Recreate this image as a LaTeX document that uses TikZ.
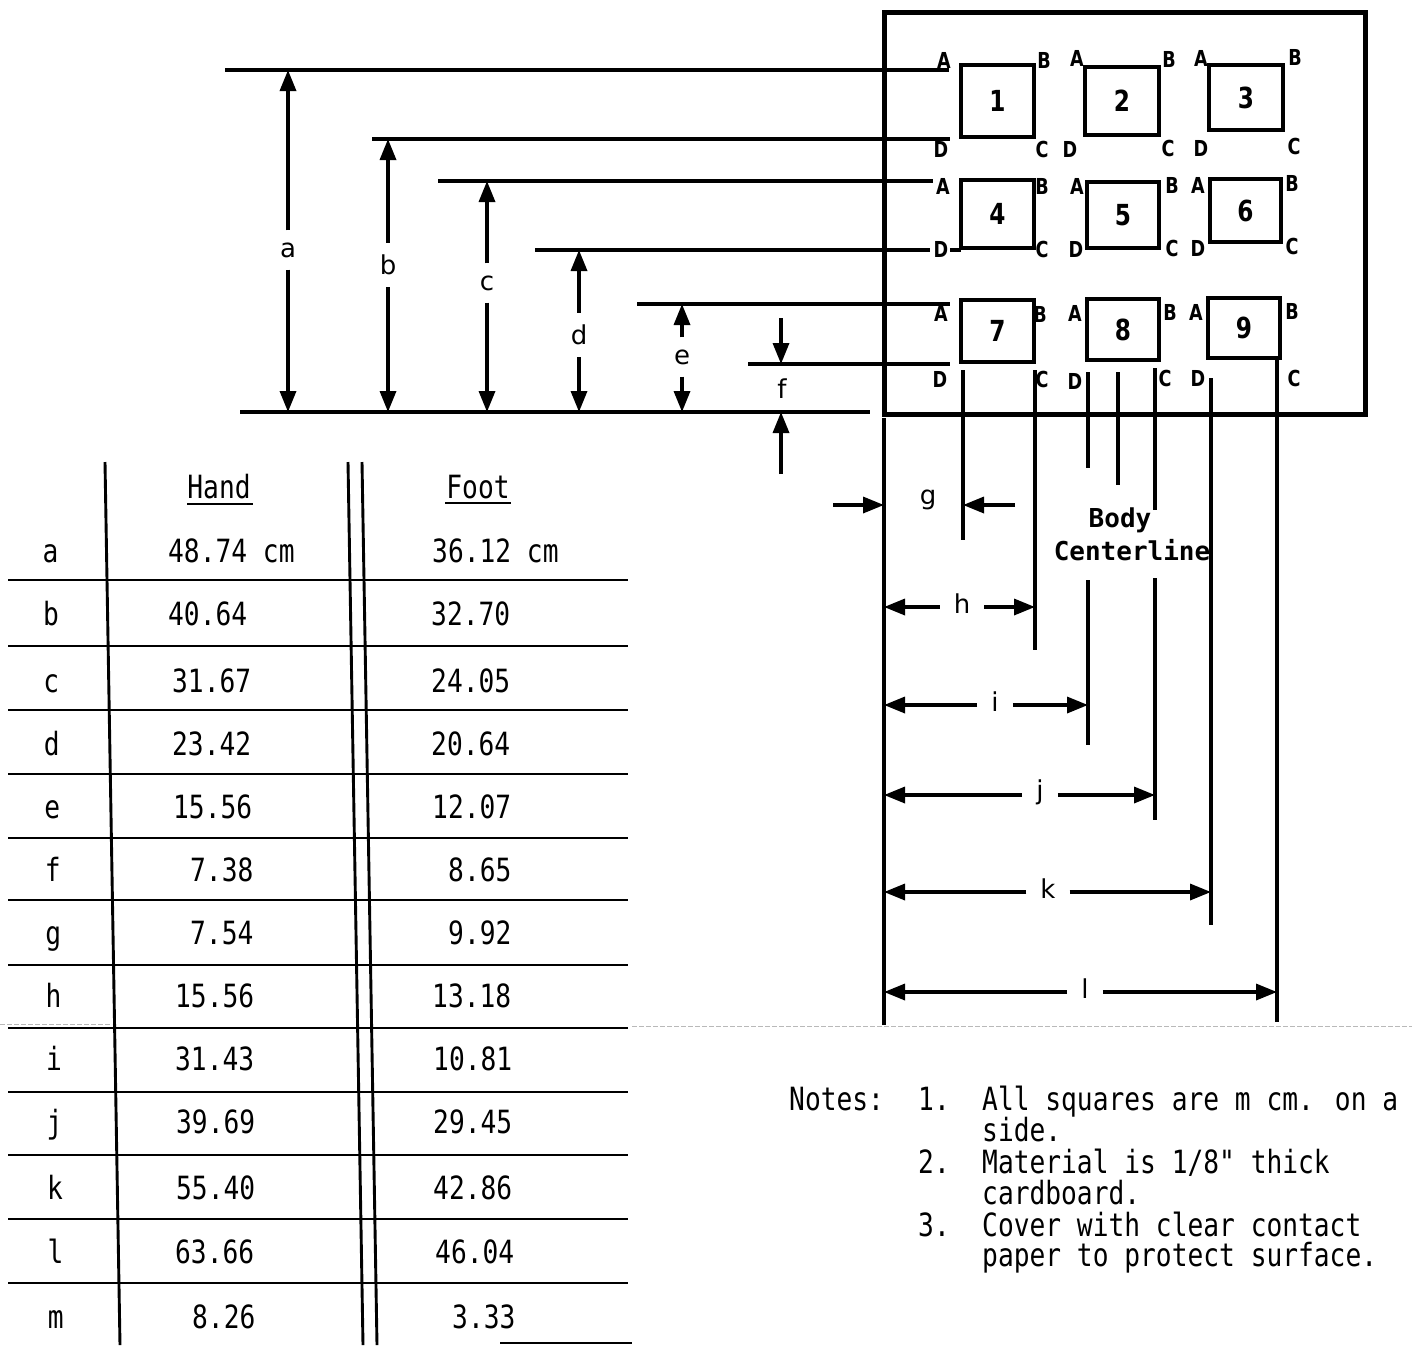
\documentclass[tikz,border=0pt]{standalone}
\usepackage{fontspec}
\usetikzlibrary{arrows.meta}
\newfontfamily\tabfont[FakeStretch=0.82]{DejaVu Sans Mono}
\newfontfamily\corfont[FakeStretch=0.8]{DejaVu Sans}
\newfontfamily\lblfont{DejaVu Sans}
\newfontfamily\bodyfont{DejaVu Sans Mono}
\tikzset{
 dimline/.style={line width=3.4pt},
 dimarrow/.style={line width=3.4pt, -{Triangle[length=21pt,width=16pt]}},
 sqbox/.style={draw, line width=4pt, inner sep=0pt, font=\corfont\bfseries\fontsize{29}{29}\selectfont},
 corner/.style={font=\corfont\bfseries\fontsize{22}{22}\selectfont, inner sep=0pt},
 dimlbl/.style={font=\lblfont\fontsize{26}{26}\selectfont, inner xsep=6pt, inner ysep=12pt},
 hlbl/.style={font=\lblfont\fontsize{26}{26}\selectfont, inner xsep=14pt, inner ysep=4pt},
 tabline/.style={line width=2.9pt},
 tabtxt/.style={font=\tabfont\fontsize{32}{32}\selectfont, inner sep=0pt, anchor=base west},
 bodytxt/.style={font=\bodyfont\bfseries\fontsize{26}{26}\selectfont, inner sep=0pt},
}
\begin{document}
\begin{tikzpicture}[x=1pt,y=-1pt]
\useasboundingbox (0,0) rectangle (1412,1345);
% faint fold line
\draw[gray!55, line width=0.8pt, dash pattern=on 5pt off 2pt] (0,1024) -- (112,1024);
\draw[gray!55, line width=0.8pt, dash pattern=on 5pt off 2pt] (632,1026) -- (1412,1026);
% board
\node[draw, line width=4.5pt, minimum width=481pt, minimum height=402pt, inner sep=0pt, anchor=north west] (board) at (882,10) {};
% squares
\node[sqbox, minimum width=73pt, minimum height=72pt] (s1) at (997.5,101) {1};
\node[sqbox, minimum width=74pt, minimum height=68pt] (s2) at (1122,101) {2};
\node[sqbox, minimum width=74pt, minimum height=65pt] (s3) at (1246,97.5) {3};
\node[sqbox, minimum width=73pt, minimum height=68pt] (s4) at (997.5,214) {4};
\node[sqbox, minimum width=72pt, minimum height=66pt] (s5) at (1123,215) {5};
\node[sqbox, minimum width=71pt, minimum height=63pt] (s6) at (1245.5,210.5) {6};
\node[sqbox, minimum width=73pt, minimum height=62pt] (s7) at (997.5,331) {7};
\node[sqbox, minimum width=72pt, minimum height=61pt] (s8) at (1123,329.5) {8};
\node[sqbox, minimum width=72pt, minimum height=60pt] (s9) at (1244,328) {9};
% corner letters
\foreach \nm/\t/\x/\y in {
 a1/A/944/60, b1/B/1044/60, a2/A/1077/58, b2/B/1169/59, a3/A/1201/58, b3/B/1295/57,
 d1/D/941/149, c1/C/1042/149, d2/D/1070/149, c2/C/1168/148, d3/D/1201/148, c3/C/1294/146,
 a4/A/943/186, b4/B/1042/186, a5/A/1077/186, b5/B/1172/185, a6/A/1198/185, b6/B/1292/183,
 d4/D/941/249, c4/C/1042/249, d5/D/1076/249, c5/C/1172/248, d6/D/1198/248, c6/C/1292/246,
 a7/A/941/313, b7/B/1040/314, a8/A/1075/313, b8/B/1170/312, a9/A/1196/312, b9/B/1292/311,
 d7/D/940/379, c7/C/1042/379, d8/D/1075/381, c8/C/1165/378, d9/D/1198/378, c9/C/1294/378}
 \node[corner] (k\nm) at (\x,\y) {\t};
% horizontal reference lines
\draw[dimline] (225,70) -- (949,70);
\draw[dimline] (372,139) -- (950,139);
\draw[dimline] (438,181) -- (933,181);
\draw[dimline] (535,250) -- (930,250);
\draw[dimline] (950,250) -- (961,250);
\draw[dimline] (637,304) -- (950,304);
\draw[dimline] (748,364) -- (950,364);
\draw[dimline] (240,412) -- (870,412);
% vertical dimensions a-e
\foreach \n/\x/\yt/\yl in {a/288/70/250, b/388/139/265, c/487/181/283, d/579/250/335, e/682/304/357}{
 \coordinate (\n top) at (\x,\yt);
 \coordinate (\n bot) at (\x,412);
 \node[dimlbl] (\n lab) at (\x,\yl) {\n};
 \draw[dimarrow] (\n lab) -- (\n top);
 \draw[dimarrow] (\n lab) -- (\n bot);
}
% f dimension
\coordinate (f1) at (781,318);
\coordinate (f1e) at (781,364);
\coordinate (f2) at (781,474);
\coordinate (f2e) at (781,412);
\node[dimlbl, inner ysep=2pt] (flab) at (782,389) {f};
\draw[dimarrow] (f1) -- (f1e);
\draw[dimarrow] (f2) -- (f2e);
% extension lines below the board
\draw[dimline] (884,418) -- (884,1025);
\draw[dimline] (963,370) -- (963,540);
\draw[dimline] (1035,370) -- (1035,650);
\draw[dimline] (1088,372) -- (1088,468);
\draw[dimline] (1088,580) -- (1088,745);
\draw[dimline] (1118,372) -- (1118,485);
\draw[dimline] (1155,368) -- (1155,510);
\draw[dimline] (1155,578) -- (1155,820);
\draw[dimline] (1211,378) -- (1211,925);
\draw[dimline] (1277,360) -- (1277,1022);
% body centerline
\node[bodytxt] (body) at (1120,520) {Body};
\node[bodytxt] (center) at (1132,550) {Centerline};
% g dimension
\coordinate (g1) at (833,505);
\coordinate (g1e) at (884,505);
\coordinate (g2) at (1015,505);
\coordinate (g2e) at (963,505);
\node[hlbl] (glab) at (928,500) {g};
\draw[dimarrow] (g1) -- (g1e);
\draw[dimarrow] (g2) -- (g2e);
% h-l dimensions
\foreach \n/\y/\xl/\xr in {h/607/962/1035, i/705/995/1088, j/795/1040/1155, k/892/1048/1211, l/992/1085/1277}{
 \coordinate (\n left) at (884,\y);
 \coordinate (\n right) at (\xr,\y);
 \node[hlbl] (\n lab) at (\xl,\y-3) {\n};
 \draw[dimarrow] (\n lab.west |- \n left) -- (\n left);
 \draw[dimarrow] (\n lab.east |- \n right) -- (\n right);
}
% table
\draw[tabline] (105,462) -- (120,1345);
\draw[tabline] (348,462) -- (363,1345);
\draw[tabline] (362,462) -- (377,1345);
\foreach \y in {580,646,710,774,838,900,965,1028,1092,1155,1219,1283}
 \draw[tabline] (8,\y) -- (628,\y);
\draw[tabline] (500,1343) -- (632,1343);
\node[tabtxt, anchor=base] (hand) at (219,498) {Hand};
\node[tabtxt, anchor=base] (foot) at (478,498) {Foot};
\draw[line width=2.4pt] (187,504) -- (253,504);
\draw[line width=2.4pt] (445,503) -- (511,503);
\foreach \l/\h/\hx/\f/\fx/\yb [count=\i] in {
 a/48.74 cm/168/36.12 cm/432/562,
 b/40.64/168/32.70/431/625,
 c/31.67/172/24.05/431/692,
 d/23.42/172/20.64/431/755,
 e/15.56/173/12.07/432/818,
 f/7.38/190/8.65/448/881,
 g/7.54/190/9.92/448/944,
 h/15.56/175/13.18/432/1007,
 i/31.43/175/10.81/433/1070,
 j/39.69/176/29.45/433/1133,
 k/55.40/176/42.86/433/1199,
 l/63.66/175/46.04/435/1263,
 m/8.26/192/3.33/452/1328}{
 \node[tabtxt, anchor=base] (rl\i) at (50+\i*0.45,\yb) {\l};
 \node[tabtxt] (rh\i) at (\hx,\yb) {\h};
 \node[tabtxt] (rf\i) at (\fx,\yb) {\f};
}
% notes
\node[tabtxt] (notes) at (789,1110) {Notes:};
\node[tabtxt] (n1) at (918,1110) {1.};
\node[tabtxt] (t1a) at (982,1110) {All squares are m cm. on a};
\node[tabtxt] (t1b) at (982,1141) {side.};
\node[tabtxt] (n2) at (918,1173) {2.};
\node[tabtxt] (t2a) at (982,1173) {Material is 1/8" thick};
\node[tabtxt] (t2b) at (982,1204) {cardboard.};
\node[tabtxt] (n3) at (918,1236) {3.};
\node[tabtxt] (t3a) at (982,1236) {Cover with clear contact};
\node[tabtxt] (t3b) at (982,1266) {paper to protect surface.};
\end{tikzpicture}
\end{document}
